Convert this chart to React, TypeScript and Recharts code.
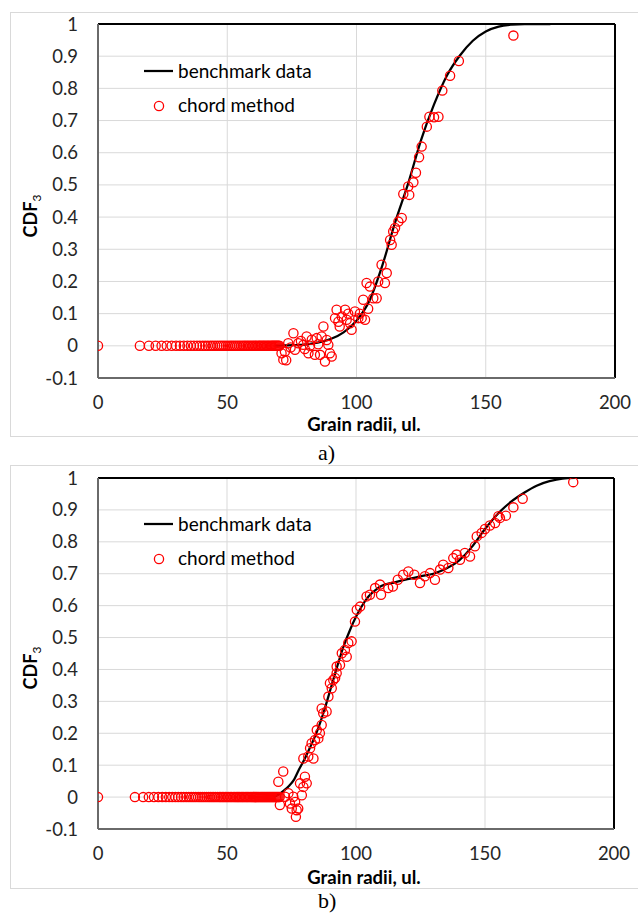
import React from 'react';
import { ComposedChart, Line, Scatter, XAxis, YAxis, CartesianGrid, ReferenceLine } from 'recharts';

const xTicks = [0, 50, 100, 150, 200];
const yTicks = [-0.1, 0, 0.1, 0.2, 0.3, 0.4, 0.5, 0.6, 0.7, 0.8, 0.9, 1];

// a) benchmark curve [radius, cdf]
const benchA = [
  [68, 0], [72, 0.001], [76, 0.002], [80, 0.004], [85, 0.01], [90, 0.021], [95, 0.042],
  [100, 0.078], [105, 0.14], [110, 0.25], [115, 0.385], [120, 0.505], [125, 0.64],
  [130, 0.75], [135, 0.84], [140, 0.902], [145, 0.948], [150, 0.977], [155, 0.992],
  [160, 0.998], [165, 1], [175, 1],
];

// a) chord method: radii that sit on cdf = 0
const zeroRowA = [
  0, 16.2, 19.7, 22.3, 24.6, 26.6, 28.5, 30.2, 31.7, 33.2, 34.6, 35.9, 37.1, 38.3, 39.4,
  40.5, 41.5, 42.5, 43.5, 44.4, 45.3, 46.2, 47.1, 47.9, 48.7, 49.5, 50.3, 51.1, 51.8, 52.5,
  53.2, 53.9, 54.6, 55.3, 56.0, 56.6, 57.2, 57.8, 58.4, 59.0, 59.6, 60.2, 60.8, 61.4, 62.0,
  62.5, 63.0, 63.5, 64.0, 64.5, 65.0, 65.5, 66.0, 66.5, 67.0, 67.4, 67.8, 68.2, 68.6, 69.0,
  69.4, 69.8, 70.2,
];

// a) chord method: the rest
const chordA = [
  [71.0, -0.023], [71.7, -0.043], [72.3, -0.018], [72.8, -0.045], [73.6, 0.008], [74.5, -0.005],
  [75.6, 0.039], [76.2, -0.012], [77.5, 0.008], [78.5, 0.015], [79.4, 0.003], [80.0, -0.01],
  [80.7, 0.029], [81.4, -0.023], [82.0, 0.0], [82.7, 0.019], [83.9, -0.028], [84.6, 0.024],
  [85.2, 0.005], [85.9, -0.028], [86.5, 0.029], [87.2, 0.06], [87.8, -0.049], [88.5, 0.018],
  [89.1, 0.003], [89.7, -0.023], [90.4, -0.033], [91.7, 0.086], [92.3, 0.112], [93.0, 0.075],
  [93.5, 0.06], [94.3, 0.091], [95.6, 0.112], [96.2, 0.081], [96.8, 0.1], [97.5, 0.07],
  [98.1, 0.05], [99.4, 0.107], [100.7, 0.086], [101.3, 0.1], [102.0, 0.086], [103.3, 0.081],
  [102.6, 0.143], [104.5, 0.115], [103.9, 0.195], [105.2, 0.184], [106.5, 0.148], [107.8, 0.148],
  [108.4, 0.2], [111.0, 0.195], [109.7, 0.252], [111.7, 0.226], [113.0, 0.329], [113.6, 0.314],
  [114.2, 0.355], [114.9, 0.366], [116.2, 0.386], [117.5, 0.397], [118.1, 0.472], [120.4, 0.469],
  [120.0, 0.495], [122.0, 0.508], [123.0, 0.538], [124.2, 0.586], [125.2, 0.619], [127.2, 0.681],
  [128.2, 0.712], [130.0, 0.71], [131.7, 0.712], [133.2, 0.793], [136.2, 0.839], [139.6, 0.885],
  [160.7, 0.964],
];

// b) benchmark curve
const benchB = [
  [68, 0], [70, 0.008], [72, 0.02], [74, 0.035], [76, 0.055], [78, 0.088], [80, 0.118],
  [82, 0.152], [85, 0.208], [88, 0.28], [90, 0.335], [92, 0.39], [95, 0.468], [98, 0.53],
  [100, 0.565], [102, 0.595], [105, 0.63], [108, 0.652], [110, 0.662], [115, 0.673],
  [120, 0.683], [125, 0.692], [130, 0.7], [135, 0.716], [140, 0.742], [145, 0.785],
  [150, 0.84], [155, 0.888], [160, 0.925], [165, 0.953], [170, 0.976], [175, 0.99],
  [180, 0.998], [185, 1],
];

const zeroRowB = [
  0, 14.3, 17.5, 19.7, 21.7, 23.4, 24.9, 26.3, 27.6, 28.8, 30.0, 31.1, 32.2, 33.2, 34.2,
  35.2, 36.1, 37.0, 37.9, 38.8, 39.6, 40.4, 41.2, 42.0, 42.8, 43.5, 44.2, 44.9, 45.6, 46.3,
  47.0, 47.6, 48.2, 48.8, 49.4, 50.0, 50.6, 51.2, 51.8, 52.4, 53.0, 53.5, 54.0, 54.5, 55.0,
  55.5, 56.0, 56.5, 57.0, 57.5, 58.0, 58.5, 59.0, 59.5, 60.0, 60.4, 60.8, 61.2, 61.6, 62.0,
  62.4, 62.8, 63.2, 63.6, 64.0, 64.4, 64.8, 65.2, 65.6, 66.0, 66.4, 66.8, 67.2, 67.6, 68.0,
  68.4, 68.8, 69.2, 69.6, 70.0, 70.4,
];

const chordB = [
  [69.9, 0.048], [70.5, -0.025], [71.8, 0.08], [72.5, 0.001], [73.8, 0.012], [74.4, -0.02],
  [75.1, -0.036], [75.7, 0.001], [76.4, -0.015], [76.7, -0.062], [77.0, -0.041], [77.6, -0.036],
  [78.3, 0.043], [79.0, 0.006], [79.6, 0.032], [80.2, 0.064], [80.9, 0.043], [79.6, 0.121],
  [81.5, 0.127], [83.5, 0.121], [82.2, 0.153], [82.8, 0.169], [84.1, 0.179], [85.4, 0.184],
  [86.0, 0.2], [84.8, 0.21], [86.7, 0.226], [87.3, 0.263], [88.6, 0.268], [86.7, 0.278],
  [89.3, 0.315], [89.9, 0.357], [91.2, 0.367], [90.6, 0.341], [91.9, 0.373], [92.5, 0.409],
  [93.8, 0.414], [92.5, 0.388], [94.5, 0.451], [95.7, 0.461], [96.4, 0.44], [97.0, 0.483],
  [98.3, 0.488], [99.6, 0.55], [100.3, 0.587], [101.6, 0.597], [104.1, 0.629], [105.4, 0.634],
  [107.4, 0.655], [109.3, 0.666], [109.7, 0.634], [112.5, 0.655], [114.3, 0.66], [116.2, 0.681],
  [118.3, 0.697], [120.3, 0.707], [122.6, 0.697], [124.8, 0.671], [126.7, 0.692], [128.7, 0.702],
  [130.6, 0.681], [132.6, 0.713], [133.8, 0.728], [135.8, 0.718], [137.7, 0.749], [139.0, 0.76],
  [140.3, 0.744], [142.2, 0.765], [144.2, 0.754], [146.1, 0.786], [146.8, 0.817], [148.7, 0.828],
  [150.0, 0.84], [151.9, 0.851], [153.9, 0.859], [155.2, 0.88], [155.8, 0.875], [158.1, 0.882],
  [161.0, 0.908], [164.6, 0.935], [184.2, 0.987],
];

const toPts = (arr: number[][]) => arr.map(([x, y]) => ({ x, y }));
const zeroPts = (arr: number[]) => arr.map((x) => ({ x, y: 0 }));

const FONT = 'Lato, "Open Sans", sans-serif';
const tickStyle = { fontSize: 18.5, fill: '#262626', fontFamily: FONT };

const Ring = (p: any) => (
  <circle cx={p.cx} cy={p.cy} r={4.6} fill="none" stroke="#ff0000" strokeWidth={1.3} />
);

function Panel({ top, height, margin, bench, chord }: any) {
  return (
    <div style={{ position: 'absolute', left: 0, top }}>
      <ComposedChart width={638} height={height} margin={margin}>
        <CartesianGrid stroke="#d9d9d9" strokeWidth={1} />
        <XAxis
          type="number"
          dataKey="x"
          domain={[0, 200]}
          ticks={xTicks}
          tick={tickStyle}
          tickLine={false}
          tickSize={0}
          tickMargin={18}
          height={40}
          axisLine={{ stroke: '#6a6a6a', strokeWidth: 2 }}
          allowDataOverflow
        />
        <YAxis
          type="number"
          domain={[-0.1, 1]}
          ticks={yTicks}
          tick={tickStyle}
          tickLine={false}
          tickSize={0}
          tickMargin={20}
          width={98}
          axisLine={{ stroke: '#6a6a6a', strokeWidth: 2 }}
          allowDataOverflow
        />
        <ReferenceLine y={1} stroke="#000" strokeWidth={2} />
        <ReferenceLine x={200} stroke="#000" strokeWidth={2} />
        <Scatter data={chord} dataKey="y" shape={Ring} isAnimationActive={false} />
        <Line
          data={bench}
          dataKey="y"
          type="monotone"
          stroke="#000"
          strokeWidth={2.25}
          dot={false}
          activeDot={false}
          isAnimationActive={false}
        />
      </ComposedChart>
    </div>
  );
}

function Texts({ legendY, xTitleY, yTitleY, caption, captionY }: any) {
  return (
    <g fontFamily={FONT} fill="#000">
      <line x1={144} x2={173} y1={legendY - 7} y2={legendY - 7} stroke="#000" strokeWidth={2.25} />
      <text x={178} y={legendY} fontSize={19}>benchmark data</text>
      <circle cx={159} cy={legendY + 28} r={4.6} fill="none" stroke="#ff0000" strokeWidth={1.3} />
      <text x={178} y={legendY + 34} fontSize={19}>chord method</text>
      <text x={364} y={xTitleY} fontSize={18.5} fontWeight="bold" textAnchor="middle">
        Grain radii, ul.
      </text>
      <text transform={`translate(37,${yTitleY}) rotate(-90)`} textAnchor="middle" fontSize={18}>
        <tspan fontWeight="bold">CDF</tspan>
        <tspan fontSize={12} dy={4}>3</tspan>
      </text>
      <text x={318} y={captionY} fontSize={22} fontFamily='"Liberation Serif", "Times New Roman", serif'>
        {caption}
      </text>
    </g>
  );
}

export default function App() {
  const chordPtsA = [...zeroPts(zeroRowA), ...toPts(chordA)];
  const chordPtsB = [...zeroPts(zeroRowB), ...toPts(chordB)];
  return (
    <div style={{ position: 'absolute', left: 0, top: 0, width: 638, height: 913, background: '#fff', overflow: 'hidden' }}>
      <div style={{ position: 'absolute', left: 10, top: 12, width: 640, height: 423, border: '1px solid #d9d9d9' }} />
      <div style={{ position: 'absolute', left: 10, top: 465, width: 640, height: 422, border: '1px solid #d9d9d9' }} />
      <Panel
        top={0}
        height={440}
        margin={{ top: 24, right: 23, bottom: 22, left: 0 }}
        bench={toPts(benchA)}
        chord={chordPtsA}
      />
      <Panel
        top={454}
        height={440}
        margin={{ top: 24, right: 24, bottom: 25, left: 0 }}
        bench={toPts(benchB)}
        chord={chordPtsB}
      />
      <svg width={638} height={913} style={{ position: 'absolute', left: 0, top: 0, pointerEvents: 'none' }}>
        <Texts legendY={78} xTitleY={431} yTitleY={216} caption="a)" captionY={460} />
        <Texts legendY={531} xTitleY={884} yTitleY={668} caption="b)" captionY={908} />
      </svg>
    </div>
  );
}
